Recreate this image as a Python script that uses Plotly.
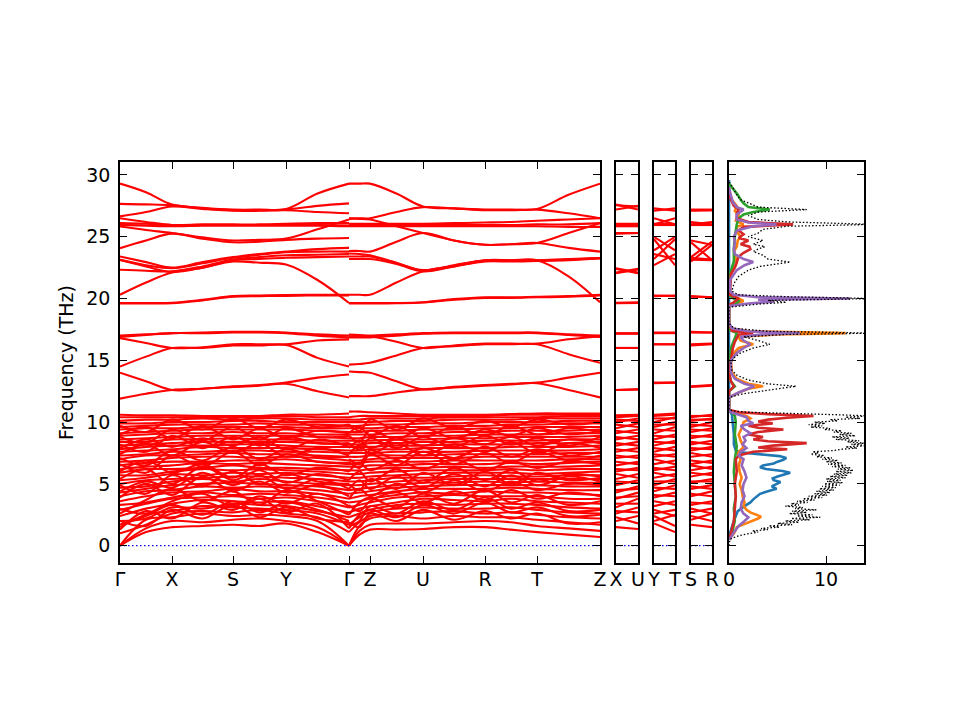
import plotly.graph_objects as go

# ---------------- k-path (cumulative path distance, arbitrary units) ----------------
k_path_A = [0, 26, 52, 82.5, 113, 139.5, 166, 197.5, 229]          # G m X m S m Y m G
k_path_B = [229, 239.5, 250, 276.5, 303, 334, 365, 391, 417, 448.5, 480]  # G m Z m U m R m T m Z
k_ticks = [0, 52, 113, 166, 229, 250, 303, 365, 417, 480]
k_labels = ["Γ", "X", "S", "Y", "Γ", "Z", "U", "R", "T", "Z"]

# ---------------- band frequencies (THz), piece A: Γ-X-S-Y-Γ ----------------
bands_A_upper = [
    [29.3, 28.6, 27.6, 27.35, 27.2, 27.2, 27.25, 28.5, 29.3],
    [27.66, 27.62, 27.55, 27.3, 27.15, 27.15, 27.2, 27.5, 27.7],
    [26.65, 27.0, 27.45, 27.25, 27.1, 27.1, 27.15, 27.0, 26.9],
    [26.5, 26.2, 25.95, 26.0, 26.0, 26.0, 26.05, 26.1, 26.1],
    [26.1, 26.05, 25.95, 25.95, 25.95, 25.95, 26.0, 25.95, 25.9],
    [25.96, 25.9, 25.85, 25.9, 25.9, 25.9, 25.9, 25.9, 25.85],
    [25.83, 25.55, 25.3, 24.95, 24.7, 24.75, 24.85, 25.6, 26.4],
    [24.08, 24.7, 25.25, 24.85, 24.55, 24.6, 24.75, 24.85, 24.9],
    [23.4, 22.95, 22.5, 22.95, 23.35, 23.6, 23.8, 24.0, 24.1],
    [23.13, 22.7, 22.45, 22.85, 23.3, 23.55, 23.75, 23.8, 23.8],
    [22.33, 22.25, 22.2, 22.6, 23.15, 23.35, 23.5, 23.55, 23.6],
    [23.13, 22.6, 22.15, 22.5, 23.1, 23.2, 23.3, 23.35, 23.4],
    [20.31, 21.3, 22.1, 22.5, 23.0, 22.9, 22.75, 21.5, 19.64],
    [19.64, 19.64, 19.66, 19.9, 20.2, 20.25, 20.28, 20.3, 20.3],
    [19.6, 19.6, 19.62, 19.85, 20.15, 20.2, 20.22, 20.25, 20.25],
    [17.0, 17.1, 17.2, 17.25, 17.3, 17.3, 17.25, 17.1, 17.0],
    [16.9, 17.05, 17.2, 17.2, 17.25, 17.25, 17.2, 17.0, 16.85],
    [16.8, 16.4, 16.0, 16.05, 16.3, 16.3, 16.3, 16.6, 16.7],
    [14.5, 15.3, 16.0, 16.0, 16.2, 16.2, 16.25, 15.2, 14.5],
    [14.0, 13.3, 12.6, 12.7, 12.9, 13.0, 13.2, 13.6, 13.85],
    [11.9, 12.3, 12.6, 12.7, 12.85, 12.95, 13.1, 12.5, 12.0],
]
bands_A_lower = [
    [0.0, 1.1, 1.5, 1.6, 1.7, 1.6, 1.8, 1.1, 0.0],
    [0.0, 1.4, 2.0, 1.9, 2.1, 2.2, 2.0, 1.5, 0.0],
    [0.0, 2.1, 2.3, 2.6, 2.4, 2.5, 2.4, 2.0, 0.0],
    [1.0, 1.7, 2.6, 2.8, 2.7, 2.9, 2.6, 2.3, 1.1],
    [1.5, 2.5, 2.8, 3.2, 3.1, 3.0, 2.9, 2.6, 1.7],
    [2.0, 2.2, 3.1, 3.0, 3.4, 3.3, 3.2, 2.8, 2.3],
    [2.4, 3.0, 3.4, 3.7, 3.6, 3.5, 3.6, 3.2, 2.7],
    [2.9, 3.4, 3.8, 3.9, 4.0, 3.8, 3.9, 3.6, 3.1],
    [3.3, 3.5, 3.9, 4.3, 4.1, 4.2, 4.1, 3.9, 3.5],
    [3.6, 4.0, 4.3, 4.4, 4.6, 4.4, 4.4, 4.2, 3.8],
    [4.0, 4.4, 4.5, 4.8, 4.7, 4.8, 4.7, 4.5, 4.2],
    [4.3, 4.6, 4.9, 5.0, 5.1, 5.0, 4.9, 4.8, 4.5],
    [4.7, 4.8, 5.2, 5.4, 5.2, 5.4, 5.2, 5.0, 4.9],
    [5.0, 5.3, 5.4, 5.5, 5.6, 5.6, 5.5, 5.4, 5.2],
    [5.3, 5.5, 5.8, 5.7, 5.9, 5.8, 5.9, 5.7, 5.5],
    [5.7, 5.7, 6.0, 6.2, 6.1, 6.2, 6.1, 6.0, 5.8],
    [5.9, 6.2, 6.2, 6.3, 6.5, 6.3, 6.3, 6.2, 6.1],
    [6.2, 6.4, 6.5, 6.7, 6.6, 6.7, 6.6, 6.5, 6.4],
    [6.5, 6.7, 6.8, 6.8, 6.9, 6.9, 7.0, 6.8, 6.6],
    [6.8, 6.9, 7.1, 7.2, 7.2, 7.1, 7.2, 7.1, 6.9],
    [7.0, 7.3, 7.3, 7.4, 7.5, 7.4, 7.4, 7.3, 7.2],
    [7.3, 7.4, 7.6, 7.6, 7.7, 7.7, 7.6, 7.6, 7.5],
    [7.6, 7.7, 7.8, 8.0, 7.9, 7.9, 7.9, 7.8, 7.7],
    [7.8, 8.0, 8.1, 8.1, 8.2, 8.2, 8.1, 8.0, 8.0],
    [8.1, 8.2, 8.3, 8.4, 8.4, 8.4, 8.4, 8.3, 8.2],
    [8.4, 8.4, 8.6, 8.6, 8.7, 8.6, 8.6, 8.5, 8.5],
    [8.6, 8.7, 8.8, 8.9, 8.9, 8.9, 8.9, 8.8, 8.7],
    [8.9, 9.0, 9.1, 9.1, 9.2, 9.1, 9.1, 9.0, 9.0],
    [9.1, 9.2, 9.3, 9.4, 9.4, 9.4, 9.4, 9.3, 9.2],
    [9.4, 9.5, 9.5, 9.6, 9.6, 9.6, 9.6, 9.5, 9.5],
    [9.6, 9.7, 9.8, 9.8, 9.8, 9.9, 9.8, 9.8, 9.7],
    [9.9, 9.9, 10.0, 10.0, 10.1, 10.1, 10.0, 10.0, 10.0],
    [10.1, 10.2, 10.2, 10.3, 10.2, 10.3, 10.3, 10.2, 10.2],
    [10.4, 10.4, 10.4, 10.4, 10.4, 10.4, 10.5, 10.4, 10.4],
    [10.6, 10.55, 10.55, 10.5, 10.5, 10.5, 10.6, 10.6, 10.7],
    # crossing (strongly dispersive) bands
    [1.3, 2.8, 2.2, 3.5, 2.9, 3.8, 2.7, 3.4, 1.4],
    [2.6, 3.7, 4.6, 3.6, 4.4, 3.3, 4.5, 3.6, 2.5],
    [3.9, 5.0, 4.1, 5.6, 4.4, 5.2, 4.3, 4.9, 4.0],
    [4.9, 4.2, 5.7, 4.8, 6.0, 5.0, 5.8, 5.2, 5.0],
    [6.0, 6.9, 5.9, 6.6, 5.5, 6.6, 5.7, 6.3, 6.0],
    [6.6, 5.9, 7.3, 6.4, 7.6, 6.5, 7.4, 6.8, 6.7],
    [7.4, 8.2, 7.3, 8.4, 7.5, 8.3, 7.2, 7.9, 7.3],
    [8.2, 7.6, 8.9, 7.9, 8.8, 8.1, 8.8, 8.3, 8.3],
    [9.0, 9.6, 8.7, 9.7, 8.6, 9.5, 8.7, 9.3, 9.1],
    [9.7, 9.2, 10.2, 9.4, 10.3, 9.5, 10.2, 9.6, 9.8],
    [2.0, 1.6, 2.9, 2.2, 3.3, 2.3, 3.1, 2.2, 1.9],
    [5.4, 6.2, 5.0, 6.4, 5.3, 6.1, 5.1, 5.8, 5.3],
    [1.7, 2.4, 3.3, 2.5, 3.6, 2.7, 3.5, 2.9, 2.0],
    [3.0, 2.6, 3.6, 4.2, 3.2, 4.0, 3.4, 4.2, 3.2],
    [4.4, 5.2, 4.7, 5.9, 4.9, 5.7, 4.6, 5.4, 4.6],
    [7.1, 6.5, 7.7, 6.9, 8.0, 7.0, 7.8, 7.2, 7.2],
    [7.9, 8.6, 8.0, 8.7, 8.1, 8.8, 7.8, 8.6, 8.0],
    [8.8, 8.3, 9.4, 8.5, 9.6, 8.6, 9.5, 8.8, 8.9],
]

# ---------------- piece B: Γ-Z-U-R-T-Z ----------------
bands_B_upper = [
    [29.3, 29.3, 29.3, 28.5, 27.45, 27.3, 27.2, 27.2, 27.25, 28.4, 29.3],
    [26.5, 26.5, 26.5, 27.0, 27.4, 27.3, 27.15, 27.15, 27.2, 26.9, 26.5],
    [26.45, 26.45, 26.4, 25.85, 25.3, 24.7, 24.35, 24.4, 24.5, 25.3, 26.1],
    [26.05, 26.05, 26.05, 26.05, 26.05, 26.1, 26.15, 26.2, 26.3, 26.4, 26.5],
    [25.95, 25.95, 25.95, 25.95, 25.95, 25.95, 25.95, 25.95, 26.0, 26.0, 26.1],
    [25.85, 25.85, 25.85, 25.85, 25.85, 25.85, 25.85, 25.85, 25.85, 25.8, 25.8],
    [23.85, 23.85, 23.8, 24.6, 25.3, 24.7, 24.35, 24.4, 24.5, 24.1, 23.8],
    [23.65, 23.6, 23.5, 22.9, 22.3, 22.7, 23.1, 23.1, 23.1, 23.2, 23.27],
    [23.4, 23.4, 23.4, 22.85, 22.25, 22.65, 23.1, 23.1, 23.1, 21.8, 19.7],
    [23.2, 23.2, 23.2, 22.8, 22.2, 22.6, 23.05, 23.05, 23.05, 23.1, 23.27],
    [20.31, 20.31, 20.31, 21.3, 22.2, 22.6, 23.0, 23.0, 23.05, 23.15, 23.27],
    [19.64, 19.64, 19.64, 19.64, 19.7, 19.95, 20.1, 20.1, 20.15, 20.2, 20.31],
    [19.6, 19.6, 19.6, 19.62, 19.68, 19.9, 20.05, 20.05, 20.1, 20.15, 20.25],
    [17.08, 17.05, 17.0, 17.1, 17.2, 17.25, 17.25, 17.25, 17.25, 17.1, 17.0],
    [16.95, 16.95, 16.95, 16.5, 16.0, 16.2, 16.35, 16.35, 16.35, 16.7, 16.95],
    [16.85, 16.85, 16.85, 17.0, 17.15, 17.2, 17.2, 17.2, 17.2, 17.05, 16.9],
    [14.65, 14.7, 14.8, 15.4, 16.0, 16.15, 16.3, 16.3, 16.3, 15.5, 14.8],
    [14.1, 14.05, 14.0, 13.3, 12.65, 12.85, 13.0, 13.1, 13.2, 13.6, 14.0],
    [12.1, 12.1, 12.1, 12.4, 12.65, 12.8, 12.95, 13.05, 13.15, 12.6, 12.0],
]
bands_B_lower = [
    [0.0, 0.9, 1.3, 1.3, 1.35, 1.5, 1.5, 1.3, 1.1, 0.9, 0.7],
    [0.0, 1.2, 1.7, 1.8, 1.8, 1.9, 2.0, 1.9, 1.6, 1.4, 1.2],
    [0.0, 1.6, 2.2, 2.4, 2.2, 2.4, 2.3, 2.3, 2.1, 1.9, 1.7],
    [1.1, 1.9, 2.4, 2.6, 2.7, 2.8, 2.6, 2.7, 2.5, 2.3, 2.2],
    [1.7, 2.3, 2.7, 3.0, 3.1, 3.0, 3.0, 3.1, 2.9, 2.7, 2.6],
    [2.3, 2.6, 2.9, 3.3, 3.4, 3.3, 3.4, 3.4, 3.3, 3.1, 3.0],
    [2.7, 3.0, 3.2, 3.5, 3.8, 3.7, 3.6, 3.8, 3.6, 3.5, 3.4],
    [3.1, 3.3, 3.5, 3.9, 4.0, 4.1, 4.0, 4.0, 4.0, 3.8, 3.8],
    [3.5, 3.6, 3.8, 4.1, 4.3, 4.2, 4.4, 4.3, 4.3, 4.2, 4.1],
    [3.8, 4.0, 4.1, 4.4, 4.6, 4.6, 4.6, 4.7, 4.6, 4.5, 4.5],
    [4.2, 4.3, 4.4, 4.7, 4.8, 4.9, 4.9, 4.9, 4.9, 4.8, 4.8],
    [4.5, 4.6, 4.7, 4.9, 5.1, 5.1, 5.2, 5.1, 5.2, 5.1, 5.1],
    [4.9, 4.9, 5.0, 5.2, 5.3, 5.4, 5.4, 5.4, 5.4, 5.4, 5.4],
    [5.2, 5.2, 5.3, 5.5, 5.5, 5.6, 5.7, 5.6, 5.6, 5.7, 5.7],
    [5.5, 5.5, 5.6, 5.7, 5.8, 5.9, 5.9, 5.9, 5.8, 5.9, 6.0],
    [5.8, 5.8, 5.9, 6.0, 6.1, 6.1, 6.1, 6.2, 6.1, 6.2, 6.2],
    [6.1, 6.1, 6.2, 6.3, 6.3, 6.4, 6.3, 6.4, 6.4, 6.4, 6.5],
    [6.4, 6.4, 6.5, 6.5, 6.6, 6.6, 6.6, 6.7, 6.6, 6.7, 6.8],
    [6.6, 6.7, 6.8, 6.8, 6.8, 6.9, 6.9, 6.9, 6.9, 7.0, 7.0],
    [6.9, 6.9, 7.0, 7.1, 7.1, 7.1, 7.2, 7.2, 7.2, 7.2, 7.2],
    [7.2, 7.2, 7.3, 7.3, 7.3, 7.4, 7.4, 7.4, 7.4, 7.5, 7.5],
    [7.5, 7.5, 7.5, 7.6, 7.6, 7.6, 7.7, 7.7, 7.7, 7.7, 7.8],
    [7.7, 7.7, 7.8, 7.8, 7.9, 7.9, 7.9, 8.0, 8.0, 8.0, 8.1],
    [8.0, 8.0, 8.0, 8.1, 8.1, 8.2, 8.2, 8.2, 8.3, 8.3, 8.4],
    [8.2, 8.2, 8.3, 8.3, 8.4, 8.4, 8.5, 8.5, 8.5, 8.6, 8.6],
    [8.5, 8.5, 8.5, 8.6, 8.6, 8.7, 8.7, 8.8, 8.8, 8.8, 8.9],
    [8.7, 8.7, 8.8, 8.8, 8.9, 8.9, 9.0, 9.0, 9.0, 9.1, 9.1],
    [9.0, 9.0, 9.0, 9.1, 9.1, 9.2, 9.2, 9.3, 9.3, 9.3, 9.4],
    [9.2, 9.2, 9.3, 9.3, 9.4, 9.4, 9.5, 9.5, 9.6, 9.6, 9.6],
    [9.5, 9.5, 9.5, 9.6, 9.6, 9.7, 9.7, 9.8, 9.8, 9.9, 9.9],
    [9.7, 9.7, 9.8, 9.8, 9.9, 9.9, 10.0, 10.0, 10.0, 10.1, 10.1],
    [10.0, 10.0, 10.0, 10.1, 10.1, 10.2, 10.2, 10.2, 10.3, 10.3, 10.3],
    [10.2, 10.2, 10.3, 10.3, 10.3, 10.4, 10.4, 10.4, 10.4, 10.5, 10.5],
    [10.4, 10.5, 10.5, 10.5, 10.5, 10.5, 10.5, 10.6, 10.6, 10.6, 10.6],
    [10.85, 10.85, 10.8, 10.7, 10.6, 10.6, 10.6, 10.65, 10.7, 10.7, 10.7],
    # crossing (strongly dispersive) bands
    [1.4, 2.5, 2.9, 2.3, 3.3, 2.6, 3.5, 2.7, 3.1, 2.4, 2.5],
    [2.5, 3.5, 3.9, 3.1, 4.2, 3.4, 4.5, 3.5, 4.1, 3.3, 3.6],
    [3.8, 4.6, 4.0, 5.0, 4.3, 5.3, 4.4, 5.2, 4.5, 5.0, 4.9],
    [5.0, 4.5, 5.4, 4.6, 5.9, 4.9, 6.0, 5.0, 5.9, 5.3, 5.5],
    [6.0, 6.7, 6.1, 6.9, 6.2, 7.0, 6.1, 6.8, 6.3, 6.8, 6.6],
    [6.8, 6.3, 7.4, 6.5, 7.6, 6.6, 7.5, 6.7, 7.6, 6.9, 7.3],
    [7.4, 8.1, 7.4, 8.3, 7.3, 8.2, 7.6, 8.4, 7.5, 8.3, 7.9],
    [8.3, 7.8, 8.7, 7.9, 8.8, 8.0, 8.9, 8.2, 8.7, 8.1, 8.8],
    [9.1, 9.6, 8.9, 9.7, 8.8, 9.6, 8.9, 9.7, 9.0, 9.5, 9.2],
    [9.8, 9.3, 10.2, 9.4, 10.3, 9.5, 10.1, 9.6, 10.2, 9.8, 10.0],
    [1.9, 1.5, 2.6, 2.0, 2.9, 2.1, 2.8, 2.2, 2.6, 1.8, 1.9],
    [5.3, 6.0, 5.2, 6.2, 5.1, 6.3, 5.3, 6.1, 5.2, 5.8, 5.6],
    [1.6, 2.0, 3.2, 2.6, 3.6, 2.9, 3.9, 3.0, 3.5, 2.8, 2.9],
    [3.3, 2.8, 3.6, 4.3, 3.5, 4.4, 3.7, 4.5, 3.8, 4.3, 4.0],
    [4.6, 5.3, 4.6, 5.6, 4.7, 5.8, 4.8, 5.7, 4.9, 5.6, 5.2],
    [7.0, 6.6, 7.7, 7.0, 7.9, 7.1, 8.0, 7.2, 7.8, 7.3, 7.6],
    [7.9, 8.5, 7.9, 8.6, 8.1, 8.7, 8.2, 8.8, 8.1, 8.6, 8.3],
    [8.9, 8.4, 9.3, 8.6, 9.5, 8.7, 9.4, 8.9, 9.5, 9.0, 9.3],
]

# ---------------- small panels: values at left / right end ----------------
xu_labels = ["X", "U"]
xu_left = [27.6, 27.55, 27.2, 26.05, 25.95, 25.85, 25.3, 25.25, 22.45, 22.4, 22.1, 22.05, 19.66, 19.62,
           17.2, 17.15, 16.0, 16.0, 12.6, 12.6,
           1.5, 2.0, 2.3, 2.6, 2.8, 3.1, 3.4, 3.8, 3.9, 4.3, 4.5, 4.9, 5.2, 5.4, 5.8, 6.0, 6.2, 6.5, 6.8,
           7.1, 7.3, 7.6, 7.8, 8.1, 8.3, 8.6, 8.8, 9.1, 9.3, 9.5, 9.8, 10.0, 10.2, 10.4, 10.55]
xu_right = [27.2, 27.45, 27.5, 26.05, 25.95, 25.85, 25.3, 25.3, 22.1, 22.05, 22.4, 22.35, 19.7, 19.64,
            17.2, 17.15, 16.0, 16.0, 12.65, 12.65,
            1.35, 2.4, 1.8, 3.1, 2.7, 3.8, 3.4, 4.3, 4.0, 4.8, 4.6, 5.3, 5.1, 5.8, 5.5, 6.3, 6.1, 6.8, 6.6,
            7.3, 7.1, 7.9, 7.6, 8.4, 8.1, 8.9, 8.6, 9.4, 9.1, 9.9, 9.6, 10.3, 10.1, 10.5, 10.6]

yt_labels = ["Y", "T"]
yt_left = [27.3, 27.1, 26.5, 26.0, 26.05, 25.95, 25.0, 24.8, 23.9, 23.6, 23.2, 22.7, 20.25, 20.2,
           17.25, 17.2, 16.3, 16.3, 13.2, 13.15,
           1.8, 2.0, 2.4, 2.6, 2.9, 3.2, 3.6, 3.9, 4.1, 4.4, 4.7, 4.9, 5.2, 5.5, 5.9, 6.1, 6.3, 6.6, 7.0,
           7.2, 7.4, 7.6, 7.9, 8.1, 8.4, 8.6, 8.9, 9.1, 9.4, 9.6, 9.8, 10.0, 10.3, 10.5, 10.6]
yt_right = [27.1, 27.3, 26.0, 26.5, 26.0, 25.95, 23.9, 22.7, 25.0, 23.2, 24.8, 23.6, 20.2, 20.25,
            17.25, 17.2, 16.3, 16.3, 13.2, 13.2,
            1.1, 2.5, 1.6, 2.9, 2.4, 3.6, 3.3, 4.3, 4.0, 4.9, 4.6, 5.4, 5.2, 5.8, 5.6, 6.4, 6.1, 6.9, 6.6,
            7.4, 7.2, 8.0, 7.7, 8.5, 8.3, 9.0, 8.8, 9.6, 9.3, 10.0, 9.8, 10.4, 10.3, 10.6, 10.7]

sr_labels = ["S", "R"]
sr_left = [27.2, 27.15, 27.1, 26.2, 26.0, 25.95, 24.7, 24.55, 23.35, 23.3, 23.15, 23.0, 20.2, 20.15,
           17.3, 17.25, 16.3, 16.2, 12.9, 12.85,
           1.7, 2.1, 2.4, 2.7, 3.0, 3.3, 3.5, 4.0, 4.2, 4.6, 4.8, 5.1, 5.2, 5.6, 5.9, 6.1, 6.5, 6.6, 6.9,
           7.2, 7.5, 7.7, 7.9, 8.2, 8.4, 8.7, 8.9, 9.2, 9.4, 9.6, 9.8, 10.1, 10.2, 10.4, 10.5]
sr_right = [27.2, 27.15, 27.15, 26.0, 26.2, 25.95, 24.35, 23.1, 24.6, 23.15, 23.1, 24.35, 20.1, 20.1,
            17.25, 17.25, 16.35, 16.3, 13.0, 12.95,
            1.5, 2.6, 2.0, 3.0, 2.6, 3.6, 3.4, 4.4, 4.0, 4.9, 4.6, 5.4, 5.2, 5.9, 5.7, 6.4, 6.2, 6.9, 6.7,
            7.4, 7.2, 8.0, 7.8, 8.5, 8.2, 9.0, 8.8, 9.5, 9.3, 10.0, 9.7, 10.3, 10.2, 10.6, 10.5]

# ---------------- density of states ----------------
dos_total_f = [0.0, 0.4, 0.5, 0.6, 0.7, 0.8, 0.9, 1.0, 1.1, 1.2, 1.3, 1.4, 1.5, 1.6, 1.7, 1.8, 1.9, 2.0,
               2.1, 2.2, 2.3, 2.4, 2.5, 2.6, 2.7, 2.8, 2.9, 3.0, 3.1, 3.2, 3.3, 3.4, 3.5, 3.6, 3.7, 3.8,
               3.9, 4.0, 4.1, 4.2, 4.3, 4.4, 4.5, 4.6, 4.7, 4.8, 4.9, 5.0, 5.1, 5.2, 5.3, 5.4, 5.5, 5.6,
               5.7, 5.8, 5.9, 6.0, 6.1, 6.2, 6.3, 6.4, 6.5, 6.6, 6.7, 6.8, 6.9, 7.0, 7.1, 7.2, 7.3, 7.4,
               7.5, 7.6, 7.7, 7.8, 7.9, 8.0, 8.1, 8.2, 8.3, 8.4, 8.5, 8.6, 8.7, 8.8, 8.9, 9.0, 9.1, 9.2,
               9.3, 9.4, 9.5, 9.6, 9.7, 9.8, 9.9, 10.0, 10.1, 10.2, 10.3, 10.4, 10.5, 10.6, 10.7, 10.8,
               10.9, 11.0, 11.5,
               12.0, 12.3, 12.6, 12.9, 13.1, 13.4, 13.8, 14.2, 14.8, 15.2, 15.6, 16.0, 16.3, 16.6, 16.9,
               17.1, 17.2, 17.35, 17.6, 18.0,
               19.3, 19.55, 19.7, 19.85, 20.0, 20.15, 20.3, 20.6, 21.2, 21.8, 22.3, 22.6, 22.95, 23.2, 23.5,
               23.8, 24.0, 24.2, 24.4, 24.7, 25.0, 25.3, 25.6, 25.85, 26.0, 26.2, 26.4, 26.7, 27.0, 27.2,
               27.4, 27.7, 28.0, 28.5, 29.0, 29.3, 29.6]
dos_total_v = [0.0, 0.05, 0.1, 0.3, 0.6, 1.0, 1.5, 2.2, 3.0, 2.4, 4.0, 3.3, 5.2, 4.1, 6.5, 5.0, 7.2, 5.8,
               8.3, 6.4, 9.4, 7.0, 8.6, 6.2, 8.0, 6.5, 9.0, 6.8, 7.6, 5.8, 7.2, 6.4, 8.1, 7.0, 8.8, 7.6,
               9.6, 8.2, 10.1, 8.8, 10.4, 9.0, 10.8, 9.3, 11.0, 9.6, 11.4, 9.8, 11.7, 10.1, 11.5, 10.0, 12.0, 10.4,
               12.2, 10.8, 12.6, 11.0, 12.8, 11.2, 12.5, 10.6, 12.0, 10.2, 11.6, 10.0, 11.2, 9.6, 10.6, 9.0, 9.8, 8.4,
               9.2, 8.6, 10.8, 11.5, 13.2, 12.0, 14.5, 12.6, 14.0, 12.2, 13.4, 11.0, 12.4, 10.6, 13.0, 11.4, 12.6, 10.8,
               11.6, 9.8, 10.4, 8.4, 9.6, 8.2, 9.9, 8.8, 11.2, 10.4, 13.5, 12.0, 14.5, 11.0, 6.0, 2.0,
               0.5, 0.0, 0.0,
               0.0, 1.5, 4.0, 6.9, 4.0, 2.0, 0.8, 0.3, 0.2, 0.5, 1.2, 2.5, 4.2, 3.0, 1.5,
               6.0, 15.0, 4.0, 0.5, 0.0,
               0.0, 3.0, 5.9, 4.0, 15.0, 6.0, 1.0, 0.3, 0.5, 1.0, 2.0, 3.2, 6.3, 4.0, 3.5,
               2.5, 3.0, 3.7, 2.5, 3.5, 2.0, 3.0, 3.5, 6.0, 15.0, 6.0, 3.0, 2.0, 3.0, 8.0,
               3.0, 2.0, 1.2, 0.7, 0.4, 0.1, 0.0]

dos_blue_f = [0.5, 1.0, 2.0, 2.8, 3.2, 3.5, 3.75, 4.0, 4.2, 4.4, 4.6, 4.8, 5.0, 5.15, 5.3, 5.45, 5.6, 5.75,
              5.9, 6.05, 6.2, 6.35, 6.5, 6.65, 6.8, 6.95, 7.1, 7.25, 7.4, 7.55, 7.7, 8.2, 9.0, 10.0, 10.6,
              11.0, 29.6]
dos_blue_v = [0.0, 0.1, 0.5, 0.9, 1.6, 2.2, 2.5, 2.9, 3.2, 4.0, 4.9, 4.4, 5.0, 5.3, 4.6, 4.5, 5.0, 5.8,
              6.3, 5.5, 3.8, 3.2, 3.5, 4.6, 5.0, 5.6, 5.9, 5.2, 3.0, 1.2, 0.7, 0.5, 0.5, 0.4, 0.3,
              0.0, 0.0]

dos_orange_f = [0.5, 0.8, 1.1, 1.5, 1.8, 2.0, 2.2, 2.35, 2.5, 2.7, 2.9, 3.2, 3.5, 4.0, 4.5, 5.0, 5.5, 6.0,
                6.5, 7.0, 7.5, 8.0, 8.5, 9.0, 9.5, 10.0, 10.3, 10.5, 10.8, 11.0,
                12.0, 12.4, 12.7, 12.9, 13.1, 13.5, 14.0, 15.0, 15.6, 16.0, 16.3, 16.6, 16.9, 17.1, 17.2,
                17.35, 17.6, 18.0,
                19.4, 19.6, 19.8, 20.0, 20.2, 20.5, 21.5, 22.3, 22.9, 23.3, 23.8, 24.2, 24.7, 25.0, 25.4,
                25.8, 26.0, 26.3, 26.8, 27.1, 27.5, 28.0, 28.5, 29.0]
dos_orange_v = [0.0, 0.3, 0.6, 0.8, 1.8, 2.5, 3.0, 3.3, 2.8, 2.2, 1.8, 1.5, 1.6, 1.4, 1.3, 1.1, 1.3, 1.1,
                1.0, 1.2, 0.9, 1.5, 1.2, 1.0, 1.3, 1.5, 2.2, 1.8, 0.3, 0.0,
                0.0, 1.0, 2.0, 3.5, 2.0, 0.8, 0.3, 0.2, 0.5, 1.0, 2.5, 1.2, 1.0, 5.0, 12.0,
                2.0, 0.2, 0.0,
                0.0, 0.8, 1.5, 1.0, 0.3, 0.0, 0.0, 0.4, 0.8, 0.7, 0.5, 0.8, 0.9, 1.2, 0.8,
                0.8, 1.5, 0.7, 1.0, 0.6, 0.8, 0.3, 0.1, 0.0]

dos_green_f = [0.5, 1.0, 2.0, 3.0, 4.0, 5.0, 6.0, 7.0, 8.0, 9.0, 10.0, 10.5, 11.0,
               12.5, 12.9, 13.3, 14.0, 16.0, 17.2, 17.5,
               19.4, 19.6, 19.8, 20.0, 20.3, 22.0, 23.0, 24.0, 25.0, 26.0, 26.5, 26.8, 27.0, 27.2, 27.4,
               27.7, 28.0, 28.4, 28.8, 29.1, 29.3]
dos_green_v = [0.0, 0.3, 0.6, 0.5, 0.7, 0.6, 0.5, 0.6, 0.8, 0.6, 0.7, 0.6, 0.0,
               0.0, 0.6, 0.2, 0.0, 0.2, 0.8, 0.0,
               0.0, 0.8, 1.0, 0.5, 0.0, 0.1, 0.5, 0.5, 0.6, 0.8, 1.0, 1.5, 2.5, 4.2, 2.0,
               1.5, 1.2, 0.9, 0.5, 0.2, 0.0]

dos_red_f = [0.5, 1.0, 2.0, 3.0, 4.0, 5.0, 6.0, 7.0, 7.3, 7.6, 7.8, 7.95, 8.1, 8.3, 8.45, 8.6, 8.8, 9.0,
             9.2, 9.4, 9.55, 9.7, 9.9, 10.05, 10.2, 10.35, 10.5, 10.65, 10.8, 11.0,
             12.5, 12.9, 13.3, 14.0, 16.0, 16.5, 17.1, 17.2, 17.4, 18.0,
             19.5, 19.6, 20.0, 20.3, 22.0, 22.5, 23.0, 23.4, 23.7, 24.0, 24.2, 24.4, 24.7, 24.9, 25.2,
             25.5, 25.8, 26.0, 26.2, 26.5, 26.9, 27.2, 27.5, 28.0, 28.5]
dos_red_v = [0.0, 0.2, 0.5, 0.6, 0.7, 0.6, 0.8, 0.7, 1.0, 2.5, 6.0, 3.0, 4.5, 8.0, 4.0, 2.5, 3.5, 2.0,
             3.0, 5.6, 3.0, 2.0, 4.5, 3.0, 4.0, 6.0, 8.7, 4.0, 1.0, 0.0,
             0.0, 0.5, 0.2, 0.0, 0.4, 0.6, 1.0, 2.5, 0.3, 0.0,
             0.0, 0.3, 1.0, 0.1, 0.2, 0.6, 0.8, 1.0, 1.5, 2.2, 2.1, 1.2, 2.0, 1.0, 1.5,
             1.0, 1.5, 6.6, 2.0, 0.8, 0.8, 1.0, 0.5, 0.2, 0.0]

dos_purple_f = [0.5, 0.8, 1.2, 1.6, 2.0, 2.3, 2.6, 3.0, 3.5, 4.0, 4.5, 5.0, 5.5, 6.0, 6.5, 7.0, 7.3, 7.6,
                7.9, 8.2, 8.5, 8.8, 9.1, 9.4, 9.7, 9.9, 10.1, 10.4, 10.6, 10.8, 11.0,
                12.0, 12.4, 12.7, 12.9, 13.1, 13.5, 14.0, 15.0, 15.6, 16.0, 16.3, 16.6, 16.9, 17.1, 17.2,
                17.35, 17.6, 18.0,
                19.4, 19.6, 19.75, 19.9, 20.0, 20.1, 20.3, 20.6, 21.5, 22.3, 22.7, 22.95, 23.2, 23.6, 24.0,
                24.5, 25.0, 25.5, 25.85, 26.0, 26.15, 26.4, 26.8, 27.0, 27.2, 27.4, 27.8, 28.3, 29.0]
dos_purple_v = [0.0, 0.3, 0.6, 1.0, 1.6, 2.0, 1.5, 1.2, 1.3, 1.6, 1.4, 1.5, 1.8, 1.6, 1.3, 1.5, 1.0, 1.2,
                1.8, 1.4, 1.7, 1.5, 2.2, 1.6, 1.2, 2.5, 2.0, 1.8, 1.0, 0.2, 0.0,
                0.0, 1.0, 2.0, 2.6, 1.6, 0.6, 0.2, 0.2, 0.8, 1.5, 2.2, 1.5, 1.2, 3.5, 7.3,
                2.0, 0.3, 0.0,
                0.0, 2.0, 4.6, 3.0, 12.5, 3.0, 0.5, 0.1, 0.1, 0.8, 1.6, 2.5, 1.5, 0.6, 0.5,
                0.6, 0.5, 0.8, 2.5, 4.9, 2.0, 0.8, 0.8, 1.2, 1.5, 0.8, 0.4, 0.2, 0.0]

dos_ticks = [0, 10]
freq_ticks = [0, 5, 10, 15, 20, 25, 30]

# ---------------- figure ----------------
W, H = 960, 720
OFF = 8  # the page body adds an 8px margin around the figure
FONT = "DejaVu Sans"
BAND = dict(color="#ff0000", width=2.1)

fig = go.Figure()


def add_band_set(xs, band_list, xa, ya, shape):
    X, Y = [], []
    for b in band_list:
        X += list(xs) + [None]
        Y += list(b) + [None]
    fig.add_trace(go.Scatter(x=X, y=Y, mode="lines", line=dict(BAND, shape=shape),
                             xaxis=xa, yaxis=ya, showlegend=False, hoverinfo="skip"))


def add_zero_line(x0, x1, xa, ya):
    fig.add_trace(go.Scatter(x=[x0, x1], y=[0, 0], mode="lines",
                             line=dict(color="#0000ff", width=1.3, dash="1.5px,2.5px"),
                             xaxis=xa, yaxis=ya, showlegend=False, hoverinfo="skip"))


# main panel
add_band_set(k_path_A, bands_A_lower + bands_A_upper, "x", "y", "spline")
add_band_set(k_path_B, bands_B_lower + bands_B_upper, "x", "y", "spline")
add_zero_line(k_path_A[0], k_path_B[-1], "x", "y")

# small panels
for i, (lv, rv) in enumerate([(xu_left, xu_right), (yt_left, yt_right), (sr_left, sr_right)]):
    xa, ya = "x%d" % (i + 2), "y%d" % (i + 2)
    add_band_set([0, 1], [[a, b] for a, b in zip(lv, rv)], xa, ya, "linear")
    add_zero_line(0, 1, xa, ya)

# DOS panel
pdos = [(dos_blue_f, dos_blue_v, "#1f77b4"), (dos_orange_f, dos_orange_v, "#ff7f0e"),
        (dos_green_f, dos_green_v, "#2ca02c"), (dos_red_f, dos_red_v, "#d62728"),
        (dos_purple_f, dos_purple_v, "#9467bd")]
for f, v, c in pdos:
    fig.add_trace(go.Scatter(x=v, y=f, mode="lines", line=dict(color=c, width=2.6),
                             xaxis="x5", yaxis="y5", showlegend=False, hoverinfo="skip"))
fig.add_trace(go.Scatter(x=dos_total_v, y=dos_total_f, mode="lines",
                         line=dict(color="black", width=1.3, dash="1.5px,2px"),
                         xaxis="x5", yaxis="y5", showlegend=False, hoverinfo="skip"))

common = dict(showline=True, linecolor="black", linewidth=1.6, mirror="ticks", ticks="inside",
              ticklen=7, tickwidth=1.4, tickcolor="black", showgrid=False, zeroline=False,
              automargin=False, tickfont=dict(family=FONT, size=19, color="black"))

ydom = [(H - (563 - OFF)) / H, (H - (162 - OFF)) / H]
yrange = [-1.4, 31.05]
panels = [(120, 600), (616, 638), (654, 675), (691, 712), (729, 864)]

layout = dict(width=W, height=H, margin=dict(l=0, r=0, t=0, b=0, pad=0),
              plot_bgcolor="white", paper_bgcolor="white", showlegend=False,
              font=dict(family=FONT, size=19, color="black"))

x_specs = [
    dict(range=[k_path_A[0], k_path_B[-1]], tickvals=k_ticks, ticktext=k_labels),
    dict(range=[0, 1], tickvals=[0, 1], ticktext=xu_labels),
    dict(range=[0, 1], tickvals=[0, 1], ticktext=yt_labels),
    dict(range=[0, 1], tickvals=[0, 1], ticktext=sr_labels),
    dict(range=[0, 13.9], tickvals=dos_ticks, ticktext=[str(t) for t in dos_ticks]),
]
for i, ((p0, p1), xs) in enumerate(zip(panels, x_specs)):
    n = "" if i == 0 else str(i + 1)
    layout["xaxis" + n] = dict(common, domain=[(p0 - OFF) / W, (p1 - OFF) / W], anchor="y" + n,
                               ticklabelstandoff=-2, **xs)
    ya = dict(common, domain=ydom, anchor="x" + n, range=yrange, tickvals=freq_ticks,
              showticklabels=(i == 0), ticklabelstandoff=4)
    if i == 0:
        ya["ticktext"] = [str(t) for t in freq_ticks]
        ya["title"] = dict(text="Frequency (THz)", standoff=8,
                           font=dict(family=FONT, size=19, color="black"))
    layout["yaxis" + n] = ya

fig.update_layout(**layout)
fig.write_html("out.html")
